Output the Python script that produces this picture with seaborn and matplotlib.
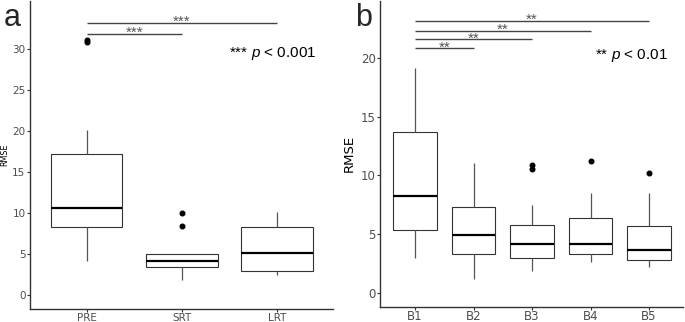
import numpy as np
import pandas as pd
import matplotlib
matplotlib.use("Agg")
import matplotlib.pyplot as plt
import seaborn as sns

# パネルa: 群ごとのRMSE
groups_a = ["PRE", "SRT", "LRT"]
pre = [4.19, 5.6, 7.1, 8.35, 9.0, 9.8, 10.7, 12.4, 15.1, 17.3, 20.15, 30.95, 31.2]
srt = [1.83, 3.0, 3.42, 3.9, 4.23, 4.7, 5.09, 8.42, 10.05]
lrt = [2.52, 2.7, 2.97, 4.0, 5.2, 6.5, 8.3, 9.2, 10.13]

# パネルb: B1-B5
groups_b = ["B1", "B2", "B3", "B4", "B5"]
b1 = [3.02, 4.5, 5.37, 6.8, 8.23, 10.5, 13.72, 16.0, 19.1]
b2 = [1.21, 2.5, 3.31, 4.2, 4.92, 6.1, 7.3, 9.0, 11.03]
b3 = [1.87, 2.4, 2.8, 3.02, 3.5, 3.9, 4.19, 4.6, 5.2, 5.83, 7.47, 10.52, 10.89]
b4 = [2.63, 3.0, 3.36, 3.8, 4.21, 5.3, 6.43, 8.49, 11.2]
b5 = [2.23, 2.5, 2.8, 3.2, 3.68, 4.6, 5.72, 8.49, 10.21]

# 有意差バー
sig_a_pairs = [("PRE", "SRT"), ("PRE", "LRT")]
sig_a_y = [31.9, 33.24]
sig_a_label = "***"
sig_b_pairs = [("B1", "B2"), ("B1", "B3"), ("B1", "B4"), ("B1", "B5")]
sig_b_y = [20.8, 21.56, 22.3, 23.15]
sig_b_label = "**"

df_a = pd.DataFrame({
    "group": np.repeat(groups_a, [len(pre), len(srt), len(lrt)]),
    "rmse": pre + srt + lrt,
})
df_b = pd.DataFrame({
    "group": np.repeat(groups_b, [len(b1), len(b2), len(b3), len(b4), len(b5)]),
    "rmse": b1 + b2 + b3 + b4 + b5,
})

sns.set_style("white")
plt.rcParams["font.family"] = ["DejaVu Sans"]
plt.rcParams["mathtext.fontset"] = "custom"
plt.rcParams["mathtext.it"] = "Liberation Sans:italic"
plt.rcParams["mathtext.rm"] = "Liberation Sans"

fig = plt.figure(figsize=(6.85, 3.22), dpi=100)
ax_a = fig.add_axes([0.0438, 0.041, 0.442, 0.956])
ax_b = fig.add_axes([0.5547, 0.0475, 0.4423, 0.9495])

box_kw = dict(color="white", linecolor="#333333", linewidth=0.8, width=0.75,
              showcaps=False,
              flierprops=dict(marker="o", markerfacecolor="black",
                              markeredgecolor="black", markersize=3.3),
              medianprops=dict(color="black", linewidth=1.6),
              whiskerprops=dict(color="#555555", linewidth=0.9))


def style_axis(ax, tick_size):
    for s in ["top", "right"]:
        ax.spines[s].set_visible(False)
    for s in ["left", "bottom"]:
        ax.spines[s].set_color("#333333")
        ax.spines[s].set_linewidth(1.0)
    ax.tick_params(axis="both", length=2.2, width=0.8, color="#333333",
                   labelcolor="#4d4d4d", labelsize=tick_size, pad=1,
                   left=True, bottom=True)
    ax.tick_params(axis="x", pad=0.5)
    ax.set_xlabel("")


def sig_bars(ax, order, pairs, ys, label):
    for (g1, g2), y in zip(pairs, ys):
        x1, x2 = order.index(g1), order.index(g2)
        ax.plot([x1, x2], [y, y], color="#444444", lw=1.0, solid_capstyle="butt")
        ax.annotate(label, xy=((x1 + x2) / 2, y), xytext=(0, -2.5),
                    textcoords="offset points", ha="center", va="baseline",
                    fontsize=11, color="#555555", family="Liberation Sans")


# a
sns.boxplot(data=df_a, x="group", y="rmse", order=groups_a, ax=ax_a, **box_kw)
style_axis(ax_a, 7.5)
ax_a.set_xlim(-0.595, 2.585)
ax_a.set_ylim(-1.63, 35.9)
ax_a.set_yticks([0, 5, 10, 15, 20, 25, 30])
ax_a.set_ylabel("RMSE", fontsize=5.8, color="black")
ax_a.yaxis.set_label_coords(-0.068, 0.5)
sig_bars(ax_a, groups_a, sig_a_pairs, sig_a_y, sig_a_label)
ax_a.text(2.417, 29.5, "*** $\\it{p}$ < 0.001", ha="right", va="center",
          fontsize=11, family="Liberation Sans", color="black")

# b
sns.boxplot(data=df_b, x="group", y="rmse", order=groups_b, ax=ax_b, **box_kw)
style_axis(ax_b, 8.5)
ax_b.set_xlim(-0.6, 4.58)
ax_b.set_ylim(-1.14, 24.81)
ax_b.set_yticks([0, 5, 10, 15, 20])
ax_b.set_ylabel("RMSE", fontsize=9.5, color="black")
ax_b.yaxis.set_label_coords(-0.08, 0.5)
sig_bars(ax_b, groups_b, sig_b_pairs, sig_b_y, sig_b_label)
ax_b.text(4.32, 20.2, "** $\\it{p}$ < 0.01", ha="right", va="center",
          fontsize=11, family="Liberation Sans", color="black")

fig.text(4 / 685, 1 - 26 / 322, "a", fontsize=22, family="Liberation Sans", va="baseline")
fig.text(355 / 685, 1 - 26 / 322, "b", fontsize=22, family="Liberation Sans", va="baseline")

fig.savefig("out.png", dpi=100)
